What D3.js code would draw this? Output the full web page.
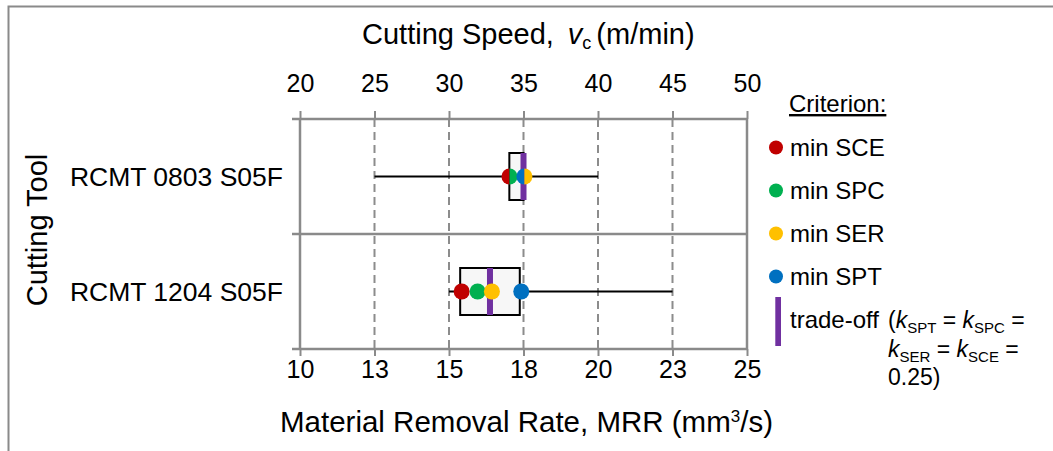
<!DOCTYPE html>
<html>
<head>
<meta charset="utf-8">
<script src="https://cdn.jsdelivr.net/npm/d3@7"></script>
<style>
  body { margin: 0; background: #fff; }
  svg { font-family: "Liberation Sans", Arial, sans-serif; }
</style>
</head>
<body>
<svg width="1053" height="451"></svg>
<script>
// tools and the ranges found for each one (cutting speed, m/min)
var tools = ["RCMT 0803 S05F", "RCMT 1204 S05F"];
var whiskerMin = [25, 30];
var whiskerMax = [40, 45];
var boxLow = [34.05, 30.75];
var boxHigh = [35.0, 34.75];
var tradeOff = [35.0, 32.75];

// optimum of each criterion
var criteria = ["min SCE", "min SPC", "min SER", "min SPT"];
var critColors = ["#C00000", "#00B050", "#FFC000", "#0070C0"];
var minSCE = [34.04, 30.85];
var minSPC = [34.08, 31.92];
var minSER = [35.08, 32.88];
var minSPT = [35.04, 34.85];

// axes
var speedTicks = [20, 25, 30, 35, 40, 45, 50];
var mrrTicks = [10, 12.5, 15, 17.5, 20, 22.5, 25];
var mrrTickLabels = ["10", "13", "15", "18", "20", "23", "25"];

var svg = d3.select("svg");
var grey = "#8a8a8a";
var purple = "#7030A0";

// outer chart frame
svg.append("rect")
    .attr("x", 8.5).attr("y", 6.5)
    .attr("width", 1100).attr("height", 500)
    .attr("fill", "none")
    .attr("stroke", grey)
    .attr("stroke-width", 2);

var x = d3.scaleLinear().domain([20, 50]).range([300, 747]);
var xMrr = d3.scaleLinear().domain([10, 25]).range([300, 747]);
var y = d3.scaleBand().domain(tools).range([119, 349]).padding(0);

var top0 = y.range()[0], bot0 = y.range()[1];

// dashed grid
svg.append("g").selectAll("line")
    .data(speedTicks.slice(1, -1))
    .enter().append("line")
    .attr("x1", d => x(d)).attr("x2", d => x(d))
    .attr("y1", top0).attr("y2", bot0)
    .attr("stroke", "#8c8c8c")
    .attr("stroke-width", 2)
    .attr("stroke-dasharray", "8,5");

// plot borders, left and right
svg.append("g").selectAll("line")
    .data([20, 50])
    .enter().append("line")
    .attr("x1", d => x(d)).attr("x2", d => x(d))
    .attr("y1", top0).attr("y2", bot0)
    .attr("stroke", grey).attr("stroke-width", 2.5);

// horizontal category separators, with ticks out to the left
var seps = tools.map(t => y(t)).concat([bot0]);
svg.append("g").selectAll("line")
    .data(seps)
    .enter().append("line")
    .attr("x1", 292).attr("x2", x(50))
    .attr("y1", d => d).attr("y2", d => d)
    .attr("stroke", grey).attr("stroke-width", 2.5);

// top axis: cutting speed
var topAxis = svg.append("g")
    .attr("transform", "translate(0," + top0 + ")")
    .call(d3.axisTop(x).tickValues(speedTicks).tickSize(8).tickFormat(d3.format("d")));
topAxis.select(".domain").remove();
topAxis.selectAll("line").attr("stroke", grey).attr("stroke-width", 2);
topAxis.selectAll("text")
    .attr("y", -27).attr("dy", 0)
    .attr("font-size", 25).attr("fill", "#000")
    .attr("font-family", "Liberation Sans, Arial, sans-serif");

// bottom axis: material removal rate
var botAxis = svg.append("g")
    .attr("transform", "translate(0," + bot0 + ")")
    .call(d3.axisBottom(xMrr).tickValues(mrrTicks).tickSize(7)
        .tickFormat((d, i) => mrrTickLabels[i]));
botAxis.select(".domain").remove();
botAxis.selectAll("line").attr("stroke", grey).attr("stroke-width", 2);
botAxis.selectAll("text")
    .attr("y", 29).attr("dy", 0)
    .attr("font-size", 25).attr("fill", "#000")
    .attr("font-family", "Liberation Sans, Arial, sans-serif");

// category labels
svg.append("g").selectAll("text")
    .data(tools)
    .enter().append("text")
    .attr("x", 283)
    .attr("y", d => y(d) + y.bandwidth() / 2 + 9.5)
    .attr("text-anchor", "end")
    .attr("font-size", 26.5)
    .text(d => d);

// boxes
var rows = tools.map(function (t, i) {
    return {
        tool: t, lo: whiskerMin[i], hi: whiskerMax[i],
        b0: boxLow[i], b1: boxHigh[i], trade: tradeOff[i],
        pts: [minSCE[i], minSPC[i], minSER[i], minSPT[i]].map((v, k) => ({ v: v, c: critColors[k] }))
    };
});
var boxH = 47;
var rowG = svg.append("g").selectAll("g")
    .data(rows)
    .enter().append("g")
    .attr("transform", d => "translate(0," + (y(d.tool) + y.bandwidth() / 2) + ")");

rowG.append("line")
    .attr("x1", d => x(d.lo)).attr("x2", d => x(d.hi))
    .attr("stroke", "#000").attr("stroke-width", 2);

rowG.append("rect")
    .attr("x", d => x(d.b0))
    .attr("width", d => x(d.b1) - x(d.b0))
    .attr("y", -boxH / 2).attr("height", boxH)
    .attr("fill", "#f7f7f7")
    .attr("stroke", "#000").attr("stroke-width", 2);

rowG.append("rect")
    .attr("x", d => x(d.trade) - 3)
    .attr("width", 6)
    .attr("y", -boxH / 2).attr("height", boxH)
    .attr("fill", purple);

// points; near-equal optima are split into two halves
var arc = d3.arc().innerRadius(0).outerRadius(8);
rowG.each(function (d) {
    var g = d3.select(this);
    var sorted = d.pts.slice().sort((a, b) => a.v - b.v);
    var groups = [];
    sorted.forEach(function (p) {
        var last = groups[groups.length - 1];
        if (last && Math.abs(x(p.v) - x(last[last.length - 1].v)) < 2) last.push(p);
        else groups.push([p]);
    });
    groups.forEach(function (grp) {
        var cx = x(d3.mean(grp, p => p.v));
        if (grp.length === 1) {
            g.append("circle").attr("cx", cx).attr("r", 8).attr("fill", grp[0].c);
        } else {
            var n = grp.length;
            grp.forEach(function (p, k) {
                g.append("path")
                    .attr("transform", "translate(" + cx + ",0)")
                    .attr("d", arc({ startAngle: Math.PI + k * 2 * Math.PI / n, endAngle: Math.PI + (k + 1) * 2 * Math.PI / n }))
                    .attr("fill", p.c);
            });
        }
    });
});

// axis titles
var title = svg.append("text")
    .attr("x", 362).attr("y", 44)
    .attr("font-size", 29);
title.append("tspan").text("Cutting Speed,");
title.append("tspan").attr("dx", 14).attr("font-style", "italic").text("v");
title.append("tspan").attr("font-size", 18).attr("dy", 5).text("c");
title.append("tspan").attr("dy", -5).attr("dx", 5).text("(m/min)");

var xTitle = svg.append("text")
    .attr("x", 280).attr("y", 432)
    .attr("font-size", 29.5);
xTitle.append("tspan").text("Material Removal Rate, MRR (mm");
xTitle.append("tspan").attr("font-size", 17).attr("dy", -10).text("3");
xTitle.append("tspan").attr("dy", 10).text("/s)");

svg.append("text")
    .attr("transform", "translate(47,230) rotate(-90)")
    .attr("text-anchor", "middle")
    .attr("font-size", 29)
    .text("Cutting Tool");

// legend
var lg = svg.append("g").attr("font-size", 24);
lg.append("text")
    .attr("x", 789).attr("y", 112)
    .attr("text-decoration", "underline")
    .text("Criterion:");

var item = lg.selectAll("g.item")
    .data(criteria)
    .enter().append("g")
    .attr("class", "item")
    .attr("transform", (d, i) => "translate(0," + (156 + i * 43) + ")");
item.append("circle")
    .attr("cx", 776).attr("cy", -8.5).attr("r", 7)
    .attr("fill", (d, i) => critColors[i]);
item.append("text")
    .attr("x", 790)
    .text(d => d);

lg.append("rect")
    .attr("x", 775.3).attr("y", 297)
    .attr("width", 5.7).attr("height", 49)
    .attr("fill", purple);
lg.append("text").attr("x", 790).attr("y", 328).text("trade-off");

function kLine(yy, parts, tail) {
    var t = lg.append("text").attr("x", 888).attr("y", yy).attr("font-size", 23);
    parts.forEach(function (p, i) {
        if (p.pre) t.append("tspan").attr("dy", i ? -5 : 0).text(p.pre);
        t.append("tspan").attr("font-style", "italic").attr("dy", (!p.pre && i) ? -5 : 0).text("k");
        t.append("tspan").attr("font-size", 15).attr("dy", 5).text(p.sub);
    });
    t.append("tspan").attr("dy", -5).text(tail);
}
kLine(328, [{ pre: "(", sub: "SPT" }, { pre: " = ", sub: "SPC" }], " =");
kLine(357, [{ pre: "", sub: "SER" }, { pre: " = ", sub: "SCE" }], " =");
lg.append("text").attr("x", 888).attr("y", 385).attr("font-size", 23).text("0.25)");
</script>
</body>
</html>
